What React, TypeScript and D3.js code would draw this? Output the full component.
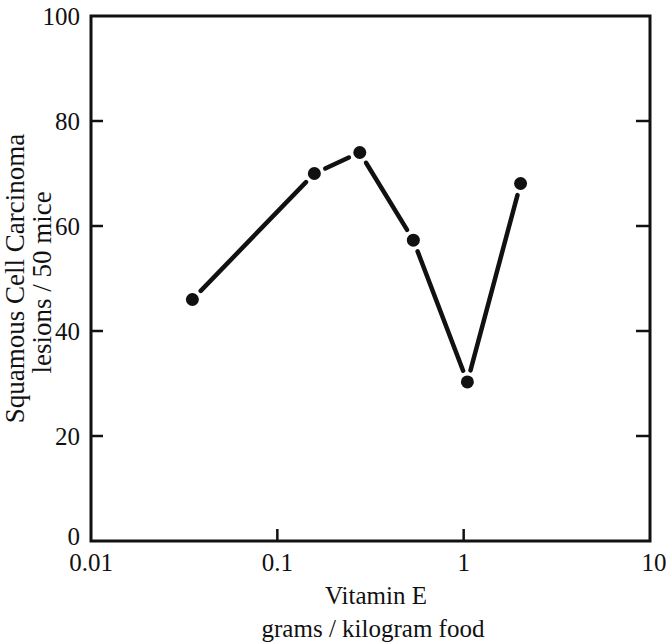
import React from "react";
import * as d3 from "d3";

const doses = [0.035, 0.158, 0.277, 0.537, 1.047, 2.02];
const lesions = [46, 70, 74, 57.3, 30.3, 68.1];
const xTickValues = [0.01, 0.1, 1, 10];
const xTickLabels = ["0.01", "0.1", "1", "10"];
const yTickValues = [0, 20, 40, 60, 80, 100];
const yTickLabels = ["0", "20", "40", "60", "80", "100"];
const xInnerTicks = [0.1, 1];
const yInnerTicks = [20, 40, 60, 80];

const W = 666;
const H = 643;
const L = 91;
const R = 650;
const T = 16;
const B = 541;
const FONT = "'Liberation Serif', 'Times New Roman', 'DejaVu Serif', serif";
const INK = "#111";

export default function App() {
  const x = d3.scaleLog().domain([0.01, 10]).range([L, R]);
  const y = d3.scaleLinear().domain([0, 100]).range([B, T]);

  const pts = doses.map((d, i) => [x(d), y(lesions[i])] as [number, number]);
  const gap = 12;
  const segs = pts.slice(1).map((p, i) => {
    const a = pts[i];
    const dx = p[0] - a[0];
    const dy = p[1] - a[1];
    const len = Math.hypot(dx, dy);
    const ux = dx / len;
    const uy = dy / len;
    return [
      [a[0] + ux * gap, a[1] + uy * gap],
      [p[0] - ux * gap, p[1] - uy * gap],
    ];
  });
  const line = d3.line();

  return (
    <svg
      width={W}
      height={H}
      style={{ position: "absolute", left: 0, top: 0, background: "#fff" }}
    >
      <rect x={L} y={T} width={R - L} height={B - T} fill="none" stroke={INK} strokeWidth={3} />
      {yInnerTicks.map((v) => (
        <g key={"yt" + v}>
          <line x1={L} x2={L + 12} y1={y(v)} y2={y(v)} stroke={INK} strokeWidth={2.5} />
          <line x1={R} x2={R - 14} y1={y(v)} y2={y(v)} stroke={INK} strokeWidth={2.5} />
        </g>
      ))}
      {xInnerTicks.map((v) => (
        <line key={"xt" + v} x1={x(v)} x2={x(v)} y1={B} y2={B - 12} stroke={INK} strokeWidth={2.5} />
      ))}
      {yTickValues.map((v, i) => (
        <text
          key={"yl" + v}
          x={L - 11}
          y={y(v) + (v === 0 ? 4 : 9)}
          textAnchor="end"
          fontFamily={FONT}
          fontSize={25}
          fill={INK}
        >
          {yTickLabels[i]}
        </text>
      ))}
      {xTickValues.map((v, i) => (
        <text
          key={"xl" + v}
          x={x(v) + (i === 3 ? 4 : 0)}
          y={571}
          textAnchor="middle"
          fontFamily={FONT}
          fontSize={25}
          fill={INK}
        >
          {xTickLabels[i]}
        </text>
      ))}
      <text x={376} y={604} textAnchor="middle" fontFamily={FONT} fontSize={25} fill={INK}>
        Vitamin E
      </text>
      <text x={373} y={637} textAnchor="middle" fontFamily={FONT} fontSize={25} fill={INK}>
        grams / kilogram food
      </text>
      <text
        transform={`translate(24, ${(T + B) / 2}) rotate(-90)`}
        textAnchor="middle"
        fontFamily={FONT}
        fontSize={27}
        fill={INK}
      >
        Squamous Cell Carcinoma
      </text>
      <text
        transform={`translate(51, ${(T + B) / 2 + 4}) rotate(-90)`}
        textAnchor="middle"
        fontFamily={FONT}
        fontSize={27}
        fill={INK}
      >
        lesions / 50 mice
      </text>
      {segs.map((s, i) => (
        <path
          key={"s" + i}
          d={line(s as [number, number][]) || ""}
          stroke={INK}
          strokeWidth={4.5}
          strokeLinecap="round"
          fill="none"
        />
      ))}
      {pts.map((p, i) => (
        <circle key={"p" + i} cx={p[0]} cy={p[1]} r={6.5} fill={INK} />
      ))}
    </svg>
  );
}
